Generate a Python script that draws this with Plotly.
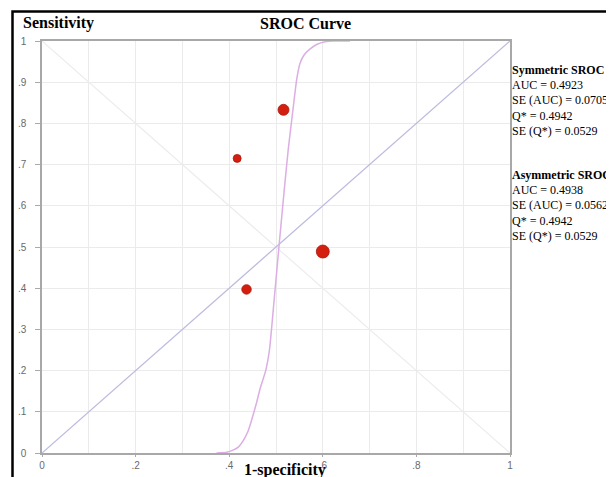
import plotly.graph_objects as go

# Study points (1-specificity, sensitivity, weight/size)
study_fpr = [0.600, 0.516, 0.437, 0.417]
study_tpr = [0.489, 0.833, 0.397, 0.715]
study_size = [13, 11, 9.5, 8]

# SROC curve
sroc_fpr = [0.373, 0.395, 0.408, 0.420, 0.430, 0.440, 0.448, 0.458, 0.467, 0.478, 0.486, 0.496,
            0.506, 0.519, 0.526, 0.531, 0.538, 0.544, 0.551, 0.560, 0.573, 0.588, 0.605, 0.622, 0.658]
sroc_tpr = [0.000, 0.002, 0.007, 0.015, 0.030, 0.052, 0.080, 0.120, 0.160, 0.200, 0.250, 0.371,
            0.497, 0.655, 0.735, 0.784, 0.850, 0.905, 0.945, 0.966, 0.981, 0.992, 0.998, 1.000, 1.000]

diag = [0, 1]
anti = [1, 0]

xtick_vals = [0, 0.2, 0.4, 0.6, 0.8, 1]
xtick_text = ["0", ".2", ".4", ".6", ".8", "1"]
ytick_vals = [0, 0.1, 0.2, 0.3, 0.4, 0.5, 0.6, 0.7, 0.8, 0.9, 1]
ytick_text = ["0", ".1", ".2", ".3", ".4", ".5", ".6", ".7", ".8", ".9", "1"]

sym_lines = ["<b>Symmetric SROC</b>", "AUC = 0.4923", "SE (AUC) = 0.0705", "Q* = 0.4942", "SE (Q*) = 0.0529"]
asym_lines = ["<b>Asymmetric SROC</b>", "AUC = 0.4938", "SE (AUC) = 0.0562", "Q* = 0.4942", "SE (Q*) = 0.0529"]

fig = go.Figure()
fig.add_trace(go.Scatter(x=diag, y=anti, mode="lines", line=dict(color="#ececec", width=1.2),
                         hoverinfo="skip"))
fig.add_trace(go.Scatter(x=diag, y=diag, mode="lines", line=dict(color="#bcbce0", width=1.3),
                         hoverinfo="skip"))
fig.add_trace(go.Scatter(x=sroc_fpr, y=sroc_tpr, mode="lines",
                         line=dict(color="#dcaee4", width=1.5, shape="spline", smoothing=0.5),
                         hoverinfo="skip"))
fig.add_trace(go.Scatter(x=study_fpr, y=study_tpr, mode="markers",
                         marker=dict(size=study_size, color="#d41f10", opacity=1,
                                     line=dict(color="#a8180c", width=0.8))))

# The page places the figure 8px from the top-left corner; margins compensate.
fig.update_layout(
    width=614, height=477,
    margin=dict(l=34, r=112, t=33, b=32, autoexpand=False),
    paper_bgcolor="white", plot_bgcolor="white",
    showlegend=False,
    font=dict(family="Liberation Sans, Arial", size=9, color="#777"),
)
fig.update_xaxes(range=[0, 1], tickvals=xtick_vals, ticktext=xtick_text, automargin=False,
                 showgrid=True, gridcolor="#ebebeb", gridwidth=1,
                 minor=dict(dtick=0.1, tick0=0, showgrid=True, gridcolor="#ebebeb", ticks=""),
                 showline=True, linecolor="#a8a8a8", linewidth=1.5, mirror=True,
                 ticks="outside", ticklen=2, tickcolor="#aaa", zeroline=False,
                 tickfont=dict(size=10, color="#6a6a6a"))
fig.update_yaxes(range=[0, 1], tickvals=ytick_vals, ticktext=ytick_text, automargin=False,
                 showgrid=True, gridcolor="#ebebeb", gridwidth=1,
                 showline=True, linecolor="#a8a8a8", linewidth=1.5, mirror=True,
                 ticks="outside", ticklen=5, tickcolor="#aaa", zeroline=False,
                 ticklabelstandoff=7,
                 tickfont=dict(size=10, color="#6a6a6a"))

serif = "Liberation Serif, Times New Roman"
# outer frame (screen x=12, y=12 top-left)
fig.add_shape(type="rect", xref="paper", yref="paper",
              x0=-29.5/468, x1=(630 - 42)/468, y0=-40/412, y1=1 + 29.5/412,
              line=dict(color="black", width=2.5), fillcolor="rgba(0,0,0,0)", layer="above")

fig.add_annotation(text="<b>Sensitivity</b>", xref="paper", yref="paper", x=-21/468, y=1 + 7/412,
                   xanchor="left", yanchor="bottom", showarrow=False,
                   font=dict(family=serif, size=16, color="black"))
fig.add_annotation(text="<b>SROC Curve</b>", xref="paper", yref="paper", x=(305 - 42) / 468, y=1 + 7/412,
                   xanchor="center", yanchor="bottom", showarrow=False,
                   font=dict(family=serif, size=16, color="black"))
fig.add_annotation(text="<b>1-specificity</b>", xref="paper", yref="paper", x=(285 - 42) / 468, y=-(481 - 453) / 412,
                   xanchor="center", yanchor="bottom", showarrow=False,
                   font=dict(family=serif, size=16, color="black"))

for block, ytop in ((sym_lines, 61), (asym_lines, 166)):
    for i, line in enumerate(block):
        fig.add_annotation(text=line, xref="paper", yref="paper",
                           x=(510 - 42) / 468, y=(453 - (ytop + i * 15.2)) / 412,
                           xanchor="left", yanchor="top", showarrow=False,
                           font=dict(family=serif, size=12, color="black"))

fig.write_html("out.html")
